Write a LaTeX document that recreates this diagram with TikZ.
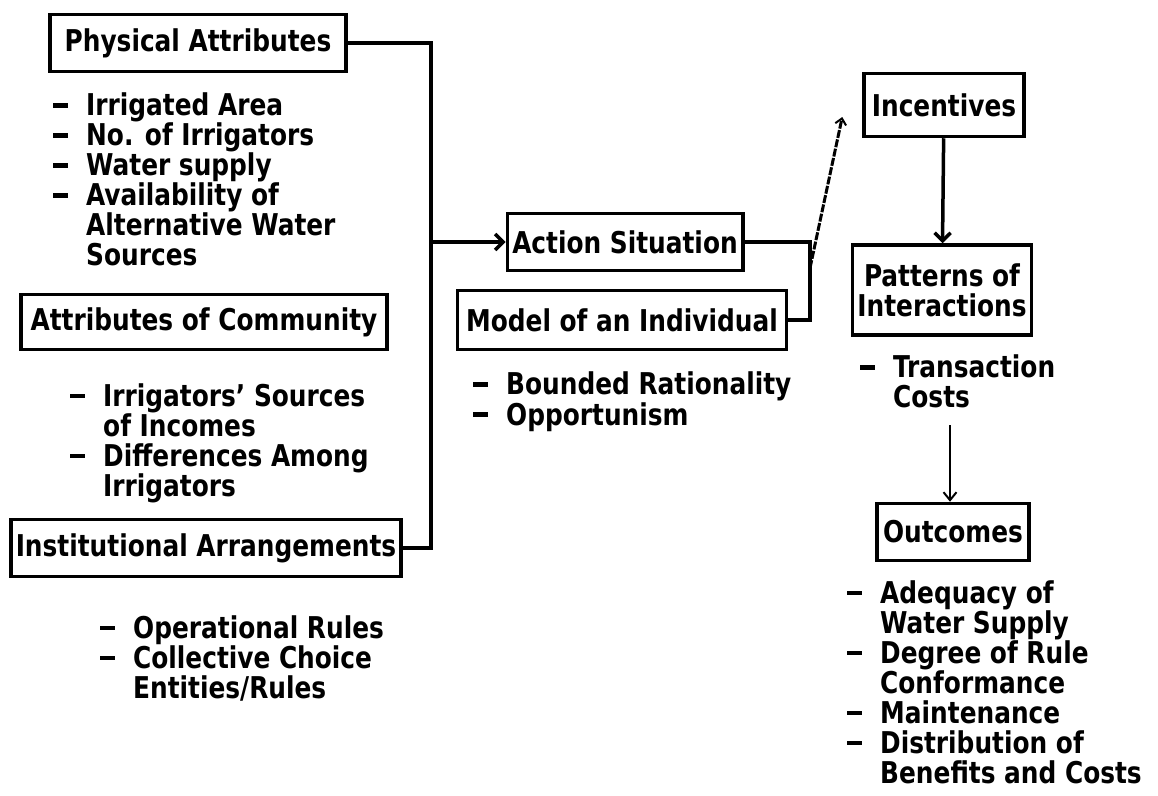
\documentclass[tikz,border=0pt]{standalone}
\usepackage{fontspec}
\setmainfont{DejaVu Sans Condensed}[BoldFont={DejaVu Sans Condensed Bold},BoldFeatures={FakeStretch=0.92}]
\usetikzlibrary{arrows.meta,calc}
\newcommand{\dia}{\fontsize{30}{30}\selectfont\bfseries\lineskiplimit=-100pt}
\newcommand{\dsh}{\rule[8pt]{15pt}{4.5pt}}
\newcommand{\itm}[1]{\makebox[33pt][l]{\dsh}#1}
\newcommand{\cnt}[1]{\hspace*{33pt}#1}
\begin{document}
\begin{tikzpicture}[x=1pt,y=-1pt,
  box/.style={draw,line width=3.5pt,inner xsep=5pt,inner ysep=0pt,font=\dia,align=center},
  lst/.style={anchor=north west,inner sep=0pt,font=\dia,align=left},
  conn/.style={line width=3.5pt},
  arr/.style={line width=3.5pt,-{Straight Barb[length=8pt,width=16pt,line width=3.5pt]}},
  thinarr/.style={line width=2pt,-{Straight Barb[length=8pt,width=13pt,line width=2pt]}},
  dasharr/.style={line width=3pt,dash pattern=on 8pt off 1.5pt,-{Straight Barb[length=6pt,width=11pt,line width=2pt]}}]
\useasboundingbox (0,0) rectangle (1158,795);
\fill[white] (0,0) rectangle (1158,795);
% boxes
\node[box,minimum width=296pt,minimum height=57pt] (phys) at (198,43) {Physical Attributes};
\node[box,minimum width=366pt,minimum height=55pt] (comm) at (204,322) {Attributes of Community};
\node[box,minimum width=388pt,minimum height=57pt] (inst) at (206,548) {Institutional Arrangements};
\node[box,minimum width=234pt,minimum height=57pt] (act) at (625,242) {Action Situation};
\node[box,minimum width=329pt,minimum height=59pt] (model) at (622,320) {Model of an Individual};
\node[box,minimum width=160pt,minimum height=63pt] (inc) at (944,105) {Incentives};
\node[box,minimum width=178pt,minimum height=90pt] (pat) at (942,290) {Patterns of\\Interactions};
\node[box,minimum width=152pt,minimum height=57pt] (out) at (953,532) {Outcomes};
% lists
\node[lst] (physl) at (53,93) {\itm{Irrigated Area}\\ \itm{No. of Irrigators}\\ \itm{Water supply}\\ \itm{Availability of}\\ \cnt{Alternative Water}\\ \cnt{Sources}};
\node[lst] (comml) at (70,383) {\itm{Irrigators’ Sources}\\ \cnt{of Incomes}\\ \itm{Differences Among}\\ \cnt{Irrigators}};
\node[lst] (instl) at (100,615) {\itm{Operational Rules}\\ \itm{Collective Choice}\\ \cnt{Entities/Rules}};
\node[lst] (modell) at (473,372) {\itm{Bounded Rationality}\\ \itm{Opportunism}};
\node[lst] (patl) at (860,355) {\itm{Transaction}\\ \cnt{Costs}};
\node[lst] (outl) at (847,580) {\itm{Adequacy of}\\ \cnt{Water Supply}\\ \itm{Degree of Rule}\\ \cnt{Conformance}\\ \itm{Maintenance}\\ \itm{Distribution of}\\ \cnt{Benefits and Costs}};
% connectors
\coordinate (bus) at (431,242);
\draw[conn] (phys.east) -| (bus);
\draw[conn] (inst.east) -| (bus);
\draw[arr] (bus) -- (act.west);
\coordinate (mj) at (810,268);
\draw[conn] (act.east) -| (mj);
\draw[conn] (model.east) -| (mj);
\draw[dasharr] (mj) -- ([xshift=-20pt,yshift=-12pt]inc.west);
\draw[arr] (inc) -- (pat);
\coordinate (po) at (950,425);
\draw[thinarr] (po) -- (po |- out.north);
\end{tikzpicture}
\end{document}
